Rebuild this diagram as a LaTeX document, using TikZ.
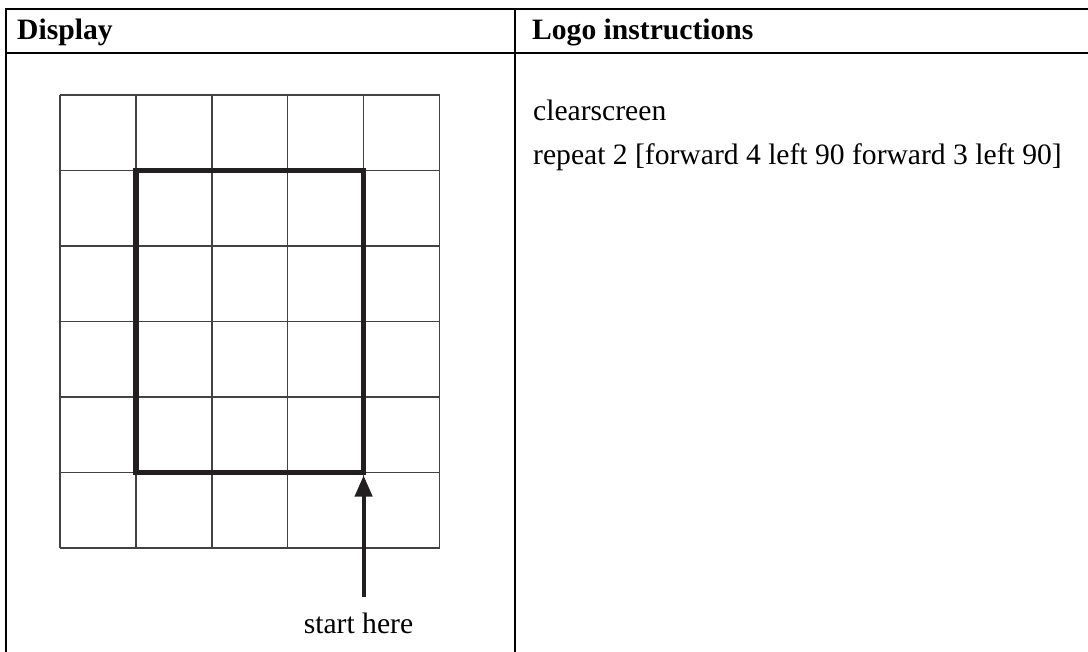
\documentclass[tikz,border=0pt]{standalone}
\usepackage{fontspec}
\setmainfont{Liberation Serif}
\usetikzlibrary{arrows.meta}
\definecolor{ink}{HTML}{231F20}
\tikzset{
  tableline/.style={line width=2pt, black},
  gridline/.style={line width=1.4pt, ink!85},
  pathline/.style={line width=5.5pt, ink, line join=miter},
  startarrow/.style={line width=4pt, ink, -{Triangle[length=21pt,width=17pt]}, shorten >=3pt},
  txt/.style={font=\fontsize{29.6pt}{34pt}\selectfont, inner sep=0pt, anchor=base west},
  hdr/.style={txt, font=\fontsize{29.6pt}{34pt}\selectfont\bfseries}
}
\begin{document}
\begin{tikzpicture}[x=1pt,y=-1pt]
\useasboundingbox (0,0) rectangle (1088,652);
\fill[white] (0,0) rectangle (1088,652);
% table
\draw[tableline] (6,652) -- (6,9) -- (1090,9);
\draw[tableline] (6,53) -- (1090,53);
\draw[tableline] (515,9) -- (515,652);
\node[hdr] (hdisplay) at (17,40) {Display};
\node[hdr] (hlogo) at (532,40) {Logo instructions};
% grid
\foreach \i in {0,...,5} {
  \draw[gridline] ({60+75.9*\i},95) -- ({60+75.9*\i},548);
}
\foreach \j in {0,...,6} {
  \draw[gridline] (60,{95+75.5*\j}) -- (439.5,{95+75.5*\j});
}
% rectangle path
\coordinate (corner) at (363.6,472.5);
\draw[pathline] (corner) -- (135.9,472.5) -- (135.9,170.5) -- (363.6,170.5) -- cycle;
% start arrow
\coordinate (start) at (363.6,597);
\draw[startarrow] (start) -- (corner);
\node[txt, anchor=base] (starttext) at (358.5,633) {start here};
% instructions
\node[txt] (cls) at (533,121) {clearscreen};
\node[txt] (rep) at (533,165) {repeat 2 [forward 4 left 90 forward 3 left 90]};
\end{tikzpicture}
\end{document}
